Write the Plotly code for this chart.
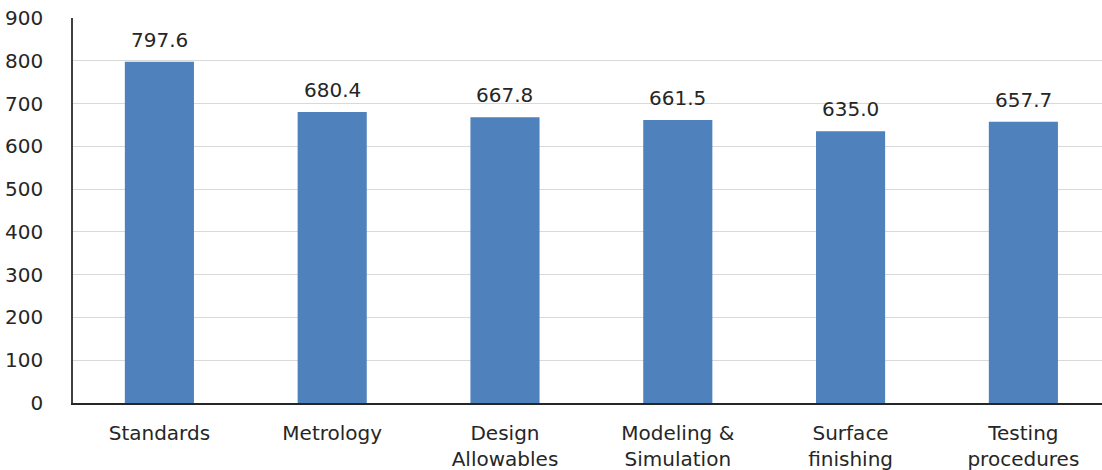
import plotly.graph_objects as go

categories = ["Standards", "Metrology", "Design<br>Allowables", "Modeling &<br>Simulation",
              "Surface<br>finishing", "Testing<br>procedures"]
values = [797.6, 680.4, 667.8, 661.5, 635.0, 657.7]
y_ticks = [0, 100, 200, 300, 400, 500, 600, 700, 800, 900]

font_family = "DejaVu Sans"
text_color = "#262626"

fig = go.Figure()
fig.add_trace(go.Bar(
    x=list(range(len(categories))),
    y=values,
    marker=dict(color="#4F81BD", line=dict(width=0)),
    width=0.4,
    hoverinfo="skip",
))

for i, v in enumerate(values):
    fig.add_annotation(
        x=i, y=v, text=f"{v:.1f}", showarrow=False,
        yanchor="bottom", yshift=8,
        font=dict(family=font_family, size=20, color=text_color),
    )

fig.update_layout(
    width=1102, height=470,
    margin=dict(l=73, r=0, t=18, b=67),
    plot_bgcolor="white", paper_bgcolor="white",
    showlegend=False,
    font=dict(family=font_family, color=text_color),
)
fig.update_xaxes(
    tickmode="array", tickvals=list(range(len(categories))), ticktext=categories,
    range=[-0.5, 5.455],
    showline=True, linecolor="#262626", linewidth=1.5,
    showgrid=False, ticks="", ticklabelstandoff=11,
    tickfont=dict(family=font_family, size=20, color=text_color),
)
fig.update_yaxes(
    range=[0, 900], tickmode="array", tickvals=y_ticks,
    showline=True, linecolor="#404040", linewidth=1.5,
    showgrid=True, gridcolor="#D9D9D9", gridwidth=1,
    zeroline=False, ticks="", ticklabelstandoff=24,
    tickfont=dict(family=font_family, size=20, color=text_color),
)

fig.write_html("out.html")
